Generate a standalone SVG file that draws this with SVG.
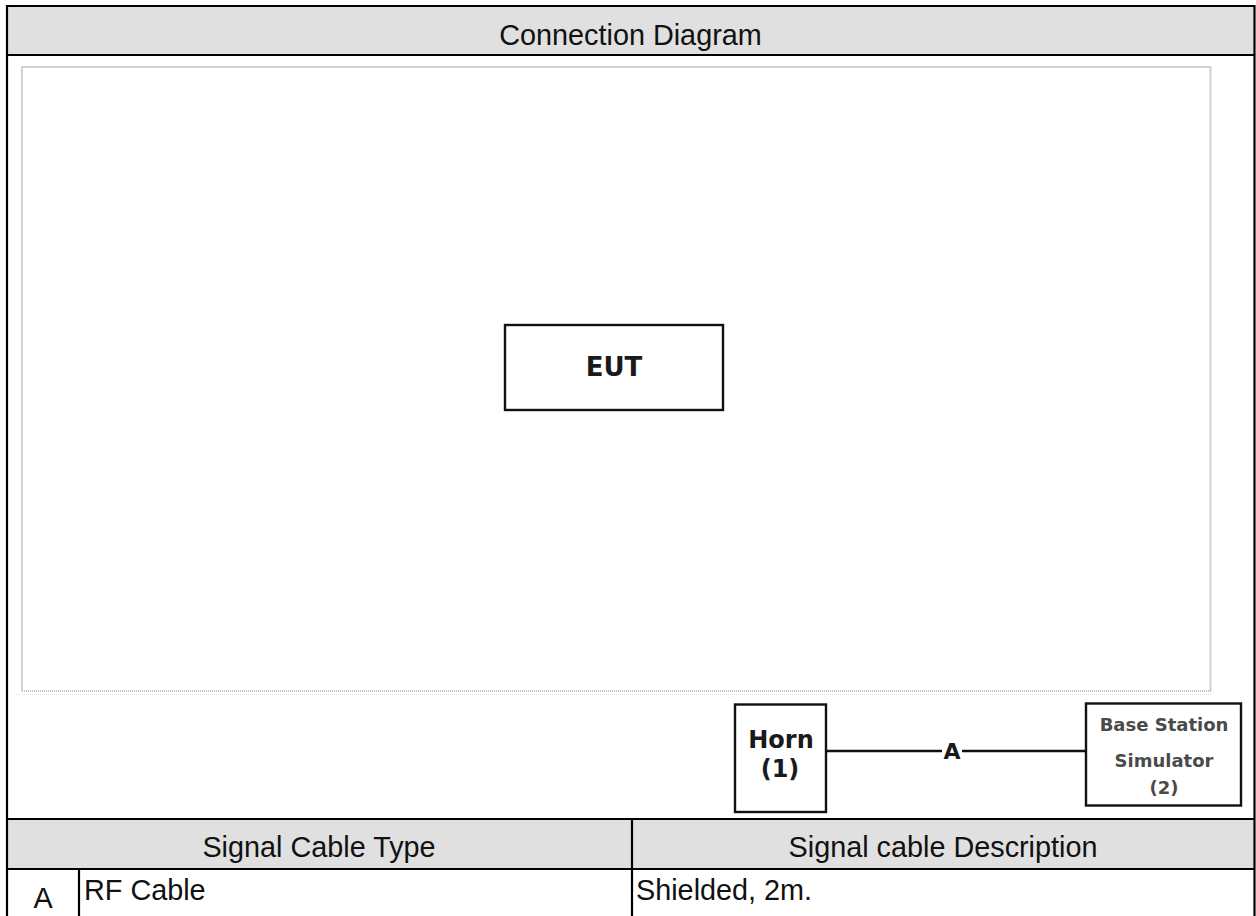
<svg xmlns="http://www.w3.org/2000/svg" width="1256" height="916" viewBox="0 0 1256 916">
  <style>
    .grid { stroke: #000; stroke-width: 2.2; fill: none; }
    .hdr { fill: #e0e0e0; }
    .ttl { font-family: "Liberation Sans", Arial, sans-serif; font-size: 28.8px; fill: #111; }
    .box { fill: #fff; stroke: #111; stroke-width: 2.4; }
    .lbl { font-family: "DejaVu Sans", Verdana, sans-serif; font-weight: bold; fill: #1a1a1a; text-anchor: middle; }
    .bss { font-family: "DejaVu Sans", Verdana, sans-serif; font-weight: bold; fill: #4a4a4a; text-anchor: middle; font-size: 18px; }
    .wire { stroke: #111; stroke-width: 2.4; fill: none; }
  </style>
  <rect x="0" y="0" width="1256" height="916" fill="#fff"/>

  <!-- frame and table -->
  <g id="table">
    <rect class="hdr" x="7" y="6" width="1247.5" height="49"/>
    <rect class="hdr" x="7" y="819" width="1247.5" height="50"/>
    <line class="grid" x1="7" y1="6" x2="1254.5" y2="6"/>
    <line class="grid" x1="7" y1="5" x2="7" y2="916"/>
    <line class="grid" x1="1254.5" y1="5" x2="1254.5" y2="916"/>
    <line class="grid" x1="7" y1="55" x2="1254.5" y2="55"/>
    <line class="grid" x1="7" y1="819" x2="1254.5" y2="819"/>
    <line class="grid" x1="7" y1="869" x2="1254.5" y2="869"/>
    <line class="grid" x1="632" y1="819" x2="632" y2="916"/>
    <line class="grid" x1="79" y1="869" x2="79" y2="916"/>
    <text class="ttl" x="630.5" y="45" text-anchor="middle">Connection Diagram</text>
    <text class="ttl" x="319" y="857" text-anchor="middle">Signal Cable Type</text>
    <text class="ttl" x="943" y="857" text-anchor="middle">Signal cable Description</text>
    <text class="ttl" x="43" y="908" text-anchor="middle">A</text>
    <text class="ttl" x="84" y="900">RF Cable</text>
    <text class="ttl" x="636" y="900">Shielded, 2m.</text>
  </g>

  <!-- test area -->
  <g id="area">
    <path d="M22 691 V67 H1210.5 V691" fill="none" stroke="#d2d2d2" stroke-width="2"/>
    <line x1="22" y1="691" x2="1211" y2="691" stroke="#8a8a8a" stroke-width="1" stroke-dasharray="1 1"/>
    <line x1="14" y1="694.5" x2="1211" y2="694.5" stroke="#e6e6e6" stroke-width="1" stroke-dasharray="1 1"/>
  </g>

  <g id="eut">
    <rect class="box" x="505" y="325" width="218" height="85"/>
    <text class="lbl" x="614" y="376" font-size="26">EUT</text>
  </g>

  <g id="horn">
    <rect class="box" x="735" y="704.5" width="91" height="107.5"/>
    <text class="lbl" x="781" y="748" font-size="24">Horn</text>
    <text class="lbl" x="780" y="777" font-size="24">(1)</text>
  </g>

  <g id="bss">
    <rect class="box" x="1086" y="703.5" width="155" height="102"/>
    <text class="bss" x="1164" y="730.5">Base Station</text>
    <text class="bss" x="1164" y="767">Simulator</text>
    <text class="bss" x="1164" y="794">(2)</text>
  </g>

  <g id="connectors">
    <line class="wire" x1="826" y1="751" x2="942" y2="751"/>
    <line class="wire" x1="962" y1="751" x2="1086" y2="751"/>
    <text class="lbl" x="952" y="759" font-size="22">A</text>
  </g>
</svg>
